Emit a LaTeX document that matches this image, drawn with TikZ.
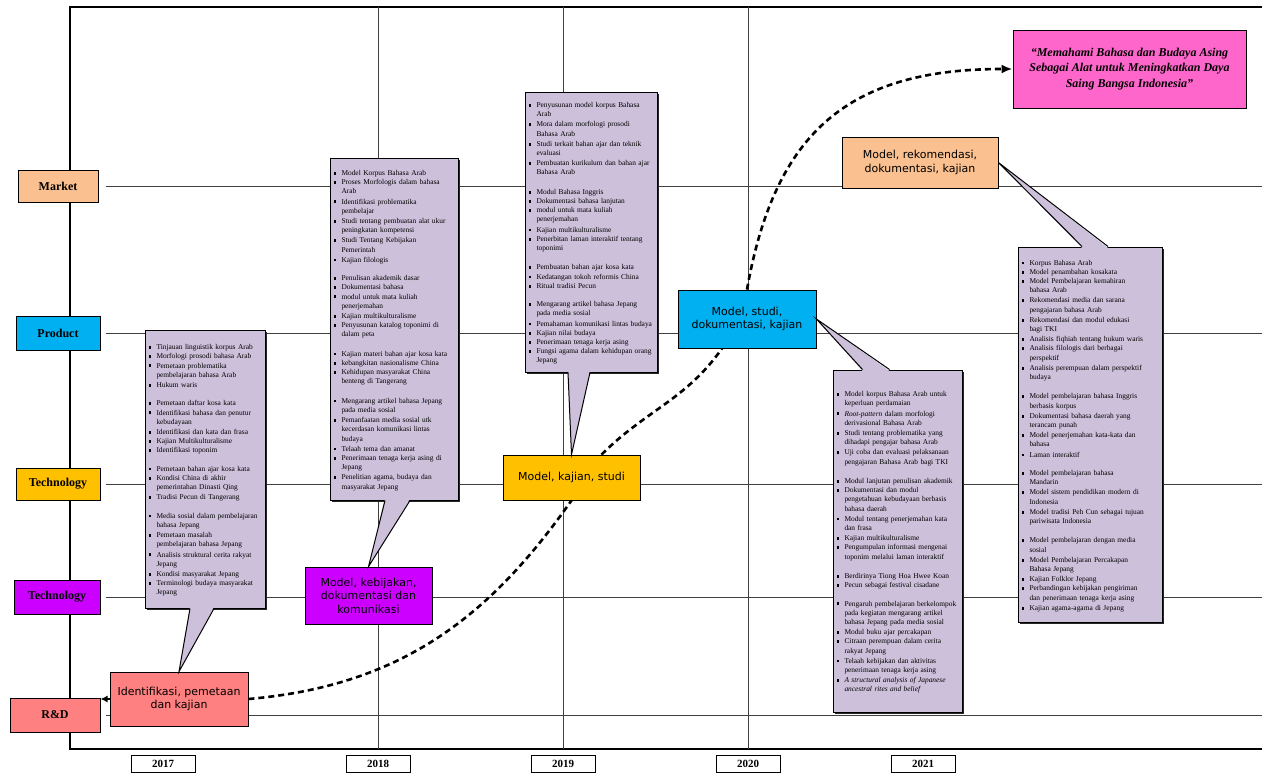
\documentclass[tikz,border=0pt]{standalone}
\usepackage{fontspec}
\setmainfont{Liberation Serif}
\newfontfamily\msfont{DejaVu Sans}
\usetikzlibrary{shadows,arrows.meta,backgrounds}

\definecolor{mktcol}{HTML}{FAC090}
\definecolor{prdcol}{HTML}{00B0F0}
\definecolor{tchcol}{HTML}{FFC000}
\definecolor{tcvcol}{HTML}{CC00FF}
\definecolor{rndcol}{HTML}{FF8080}
\definecolor{callcol}{HTML}{CCC0DA}
\definecolor{viscol}{HTML}{FF66CC}

% bullet item and empty line inside the callouts
\newcommand{\ritem}[1]{\par\noindent\makebox[8pt][l]{\rule[0.8pt]{2.8pt}{2.8pt}}%
    \begin{tabular}[t]{@{}l@{}}#1\end{tabular}}
\newcommand{\rgap}{\par\vspace{9.2pt}}

\begin{document}
\begin{tikzpicture}[x=1pt, y=-1pt,
        lane/.style={draw, line width=1pt, inner sep=0pt, font=\bfseries\fontsize{12}{14}\selectfont,
            drop shadow={shadow xshift=1pt, shadow yshift=-1pt, fill=black, opacity=1}},
        yearbox/.style={draw, line width=0.8pt, fill=white, inner sep=0pt, minimum width=64, minimum height=17,
            font=\bfseries\fontsize{11}{12}\selectfont},
        mstone/.style={draw, line width=0.8pt, align=center, inner sep=2pt, font=\msfont\fontsize{11}{13.5}\selectfont,
            drop shadow={shadow xshift=1.2pt, shadow yshift=-1.2pt, fill=black!80, opacity=1}},
        callout/.style={draw, fill=callcol, line width=1pt, align=left, inner xsep=3.5pt, inner ysep=6pt,
            font=\fontsize{7.4}{9.2}\selectfont,
            drop shadow={shadow xshift=2pt, shadow yshift=-2pt, fill=black!85, opacity=1}},
        gridline/.style={line width=0.6pt, black!75},
        roadmap/.style={line width=2.6pt, dash pattern=on 6pt off 4pt}
    ]
    \useasboundingbox (0,0) rectangle (1262,774);

    % --- lanes ---
    \node[lane, fill=mktcol, minimum width=80, minimum height=32] (mkt) at (58,186) {Market};
    \node[lane, fill=prdcol, minimum width=84, minimum height=34] (prd) at (58,333) {Product};
    \node[lane, fill=tchcol, minimum width=84, minimum height=32] (tch) at (58,484) {Technology};
    \node[lane, fill=tcvcol, minimum width=86, minimum height=34] (tcv) at (57,597) {Technology};
    \node[lane, fill=rndcol, minimum width=90, minimum height=34] (rnd) at (55,715) {R\&D};

    % --- years ---
    \foreach \yr/\xx in {2017/163, 2018/378, 2019/563, 2020/748, 2021/923}
        \node[yearbox] (y\yr) at (\xx,764) {\yr};

    % --- milestones ---
    \node[mstone, fill=rndcol, minimum width=138, minimum height=54] (idf) at (179,699) {Identifikasi, pemetaan\\dan kajian};
    \node[mstone, fill=tcvcol, minimum width=127, minimum height=57] (pol) at (368.5,595.5) {Model, kebijakan,\\dokumentasi dan\\komunikasi};
    \node[mstone, fill=tchcol, minimum width=137, minimum height=45] (mks) at (571.5,477.5) {Model, kajian, studi};
    \node[mstone, fill=prdcol, minimum width=138, minimum height=58] (msd) at (747,319) {Model, studi,\\dokumentasi, kajian};
    \node[mstone, fill=mktcol, minimum width=156, minimum height=51] (mrd) at (920,162.5) {Model, rekomendasi,\\dokumentasi, kajian};
    \node[draw, fill=viscol, line width=1pt, align=center, minimum width=233, minimum height=78,
        font=\bfseries\itshape\fontsize{12}{15.5}\selectfont,
        drop shadow={shadow xshift=1.2pt, shadow yshift=-1.2pt, fill=black!80, opacity=1}] (vis) at (1129.5,69)
        {“Memahami Bahasa dan Budaya Asing\\Sebagai Alat untuk Meningkatkan Daya\\Saing Bangsa Indonesia”};

    % --- callouts ---
    \node[callout, text width=113, minimum height=278] (c17) at (205,469) {%
        \ritem{Tinjauan linguistik korpus Arab}
        \ritem{Morfologi prosodi bahasa Arab}
        \ritem{Pemetaan problematika\\pembelajaran bahasa Arab}
        \ritem{Hukum waris}
        \rgap
        \ritem{Pemetaan daftar kosa kata}
        \ritem{Identifikasi bahasa dan penutur\\kebudayaan}
        \ritem{Identifikasi dan kata dan frasa}
        \ritem{Kajian Multikulturalisme}
        \ritem{Identifikasi toponim}
        \rgap
        \ritem{Pemetaan bahan ajar kosa kata}
        \ritem{Kondisi China di akhir\\pemerintahan Dinasti Qing}
        \ritem{Tradisi Pecun di Tangerang}
        \rgap
        \ritem{Media sosial dalam pembelajaran\\bahasa Jepang}
        \ritem{Pemetaan masalah\\pembelajaran bahasa Jepang}
        \ritem{Analisis struktural cerita rakyat\\Jepang}
        \ritem{Kondisi masyarakat Jepang}
        \ritem{Terminologi budaya masyarakat\\Jepang}\par};
    \node[callout, text width=121, minimum height=342] (c18) at (394,329) {%
        \ritem{Model Korpus Bahasa Arab}
        \ritem{Proses Morfologis dalam bahasa\\Arab}
        \ritem{Identifikasi problematika\\pembelajar}
        \ritem{Studi tentang pembuatan alat ukur\\peningkatan kompetensi}
        \ritem{Studi Tentang Kebijakan\\Pemerintah}
        \ritem{Kajian filologis}
        \rgap
        \ritem{Penulisan akademik dasar}
        \ritem{Dokumentasi bahasa}
        \ritem{modul untuk mata kuliah\\penerjemahan}
        \ritem{Kajian multikulturalisme}
        \ritem{Penyusunan katalog toponimi di\\dalam peta}
        \rgap
        \ritem{Kajian materi bahan ajar kosa kata}
        \ritem{kebangkitan nasionalisme China}
        \ritem{Kehidupan masyarakat China\\benteng di Tangerang}
        \rgap
        \ritem{Mengarang artikel bahasa Jepang\\pada media sosial}
        \ritem{Pemanfaatan media sosial utk\\kecerdasan komunikasi lintas\\budaya}
        \ritem{Telaah tema dan amanat}
        \ritem{Penerimaan tenaga kerja asing di\\Jepang}
        \ritem{Penelitian agama, budaya dan\\masyarakat Jepang}\par};
    \node[callout, text width=125, minimum height=280] (c19) at (591,232) {%
        \ritem{Penyusunan model korpus Bahasa\\Arab}
        \ritem{Mora dalam morfologi prosodi\\Bahasa Arab}
        \ritem{Studi terkait bahan ajar dan teknik\\evaluasi}
        \ritem{Pembuatan kurikulum dan bahan ajar\\Bahasa Arab}
        \rgap
        \ritem{Modul Bahasa Inggris}
        \ritem{Dokumentasi bahasa lanjutan}
        \ritem{modul untuk mata kuliah\\penerjemahan}
        \ritem{Kajian multikulturalisme}
        \ritem{Penerbitan laman interaktif tentang\\toponimi}
        \rgap
        \ritem{Pembuatan bahan ajar kosa kata}
        \ritem{Kedatangan tokoh reformis China}
        \ritem{Ritual tradisi Pecun}
        \rgap
        \ritem{Mengarang artikel bahasa Jepang\\pada media sosial}
        \ritem{Pemahaman komunikasi lintas budaya}
        \ritem{Kajian nilai budaya}
        \ritem{Penerimaan tenaga kerja asing}
        \ritem{Fungsi agama dalam kehidupan orang\\Jepang}\par};
    \node[callout, text width=122, minimum height=342] (c20) at (897.5,541) {%
        \ritem{Model korpus Bahasa Arab untuk\\keperluan perdamaian}
        \ritem{\textit{Root-pattern} dalam morfologi\\derivasional Bahasa Arab}
        \ritem{Studi tentang problematika yang\\dihadapi pengajar bahasa Arab}
        \ritem{Uji coba dan evaluasi pelaksanaan\\pengajaran Bahasa Arab bagi TKI}
        \rgap
        \ritem{Modul lanjutan penulisan akademik}
        \ritem{Dokumentasi dan modul\\pengetahuan kebudayaan berbasis\\bahasa daerah}
        \ritem{Modul tentang penerjemahan kata\\dan frasa}
        \ritem{Kajian multikulturalisme}
        \ritem{Pengumpulan informasi mengenai\\toponim melalui laman interaktif}
        \rgap
        \ritem{Berdirinya Tiong Hoa Hwee Koan}
        \ritem{Pecun sebagai festival cisadane}
        \rgap
        \ritem{Pengaruh pembelajaran berkelompok\\pada kegiatan mengarang artikel\\bahasa Jepang pada media sosial}
        \ritem{Modul buku ajar percakapan}
        \ritem{Citraan perempuan dalam cerita\\rakyat Jepang}
        \ritem{Telaah kebijakan dan aktivitas\\penerimaan tenaga kerja asing}
        \ritem{\textit{A structural analysis of Japanese}\\\textit{ancestral rites and belief}}\par};
    \node[callout, text width=137, minimum height=375] (c21) at (1090,434.5) {%
        \ritem{Korpus Bahasa Arab}
        \ritem{Model penambahan kosakata}
        \ritem{Model Pembelajaran kemahiran\\bahasa Arab}
        \ritem{Rekomendasi media dan sarana\\pengajaran bahasa Arab}
        \ritem{Rekomendasi dan modul edukasi\\bagi TKI}
        \ritem{Analisis fiqhiah tentang hukum waris}
        \ritem{Analisis filologis dari berbagai\\perspektif}
        \ritem{Analisis perempuan dalam perspektif\\budaya}
        \rgap
        \ritem{Model pembelajaran bahasa Inggris\\berbasis korpus}
        \ritem{Dokumentasi bahasa daerah yang\\terancam punah}
        \ritem{Model penerjemahan kata-kata dan\\bahasa}
        \ritem{Laman interaktif}
        \rgap
        \ritem{Model pembelajaran bahasa\\Mandarin}
        \ritem{Model sistem pendidikan modern di\\Indonesia}
        \ritem{Model tradisi Peh Cun sebagai tujuan\\pariwisata Indonesia}
        \rgap
        \ritem{Model pembelajaran dengan media\\sosial}
        \ritem{Model Pembelajaran Percakapan\\Bahasa Jepang}
        \ritem{Kajian Folklor Jepang}
        \ritem{Perbandingan kebijakan pengiriman\\dan penerimaan tenaga kerja asing}
        \ritem{Kajian agama-agama di Jepang}\par};

    % --- callout pointers ---
    \fill[callcol] ([xshift=-15,yshift=1.5]c17.south) -- (idf.north) -- ([xshift=9,yshift=1.5]c17.south) -- cycle;
    \draw[line width=1pt] ([xshift=-15]c17.south) -- (idf.north) -- ([xshift=9]c17.south);
    \fill[callcol] ([xshift=-9,yshift=1.5]c18.south) -- (pol.north) -- ([xshift=16,yshift=1.5]c18.south) -- cycle;
    \draw[line width=1pt] ([xshift=-9]c18.south) -- (pol.north) -- ([xshift=16]c18.south);
    \fill[callcol] ([xshift=-23,yshift=1.5]c19.south) -- (mks.north) -- ([xshift=-1,yshift=1.5]c19.south) -- cycle;
    \draw[line width=1pt] ([xshift=-23]c19.south) -- (mks.north) -- ([xshift=-1]c19.south);
    \fill[callcol] ([xshift=-35,yshift=-1.5]c20.north) -- (msd.east) -- ([xshift=-8,yshift=-1.5]c20.north) -- cycle;
    \draw[line width=1pt] ([xshift=-35]c20.north) -- (msd.east) -- ([xshift=-8]c20.north);
    \fill[callcol] ([xshift=-8,yshift=-1.5]c21.north) -- (mrd.east) -- ([xshift=18,yshift=-1.5]c21.north) -- cycle;
    \draw[line width=1pt] ([xshift=-8]c21.north) -- (mrd.east) -- ([xshift=18]c21.north);

    \begin{scope}[on background layer]
        % --- frame and grid ---
        \draw[line width=1.6pt] (1262,7) -- (70,7) -- (70,749) -- (1262,749);
        \foreach \yy in {186,333,484,597,715}
            \draw[gridline] (106,\yy) -- (1262,\yy);
        \foreach \xx in {378,563,748}
            \draw[gridline] (\xx,7) -- (\xx,749);

        % --- roadmap curve ---
        \draw[roadmap] (idf.east) to[out=5, in=-125] (mks.south);
        \draw[roadmap] ([xshift=30]mks.north) to[out=45, in=-125] ([xshift=-25]msd.south);
        \draw[roadmap, -{Latex[length=11pt,width=9pt]}] (msd.north) to[out=80, in=180, looseness=1.2] (vis.west);
        \draw[roadmap, line width=2pt, -{Latex[length=7pt,width=7pt]}] (idf.west) -- (idf.west -| rnd.east);
    \end{scope}
\end{tikzpicture}
\end{document}
